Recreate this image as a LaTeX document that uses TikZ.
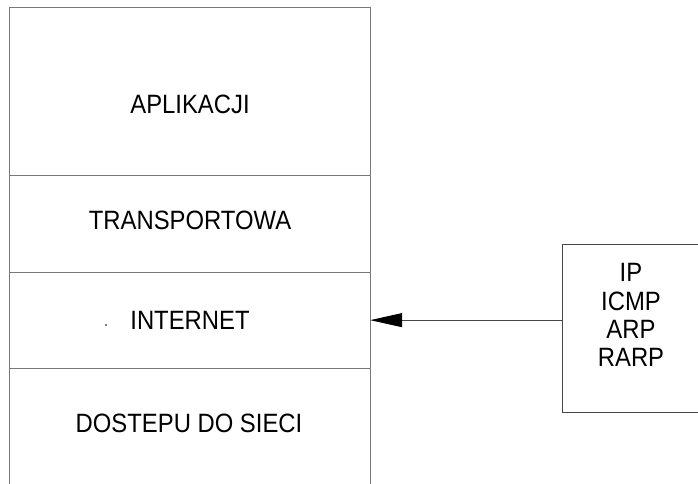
\documentclass[tikz,border=0pt]{standalone}
\usepackage{fontspec}
\newfontfamily\layerfont[FakeStretch=0.9]{Liberation Sans}
\usetikzlibrary{arrows.meta}
\definecolor{framegray}{RGB}{120,120,120}
\definecolor{boxgray}{RGB}{70,70,70}
\tikzset{
  layer/.style={rectangle, inner sep=0pt, minimum width=360pt},
  frame/.style={draw=framegray, line width=1.3pt},
  lbl/.style={inner sep=0pt, anchor=base, text=black,
    font=\layerfont\fontsize{26.5pt}{28.3pt}\selectfont},
  protobox/.style={draw=boxgray, line width=1pt, rectangle, inner sep=0pt,
    minimum width=138pt, minimum height=168pt},
  link/.style={draw=boxgray, line width=1pt,
    -{Triangle[length=32pt,width=14pt,fill=black,color=black]}}
}
\begin{document}
\begin{tikzpicture}[x=1pt,y=-1pt]
  \clip (0,0) rectangle (698,484);

  % protocol stack layers (bottom layer runs off the page)
  \node[layer, minimum height=167.5pt] (app)   at (190,91.75)  {};
  \node[layer, minimum height=96.5pt]  (trans) at (190,223.75) {};
  \node[layer, minimum height=96.3pt]  (inet)  at (190,320.15) {};
  \node[layer, minimum height=119.7pt] (net)   at (190,428.15) {};

  % outer frame, open at the bottom
  \draw[frame] (net.south west) -- (app.north west) -- (app.north east) -- (net.south east);
  % separators between layers
  \draw[frame] (app.south west)   -- (app.south east);
  \draw[frame] (trans.south west) -- (trans.south east);
  \draw[frame] (inet.south west)  -- (inet.south east);

  % layer names
  \node[lbl] (tapp)   at (190,113.3) {APLIKACJI};
  \node[lbl] (ttrans) at (190,229.3) {TRANSPORTOWA};
  \node[lbl] (tinet)  at (190,329)   {INTERNET};
  \node[lbl] (tnet)   at (189,432.3) {DOSTEPU DO SIECI};
  \fill[black] (106,325) circle (0.8pt);

  % internet-layer protocols
  \node[protobox] (pbox) at (631,328.7) {};
  \node[lbl, align=center, anchor=north] (plist) at (631,263.3)
    {IP\\ICMP\\ARP\\RARP};

  % protocols belong to the internet layer
  \draw[link] (inet.east -| pbox.west) -- (inet.east);
\end{tikzpicture}
\end{document}
